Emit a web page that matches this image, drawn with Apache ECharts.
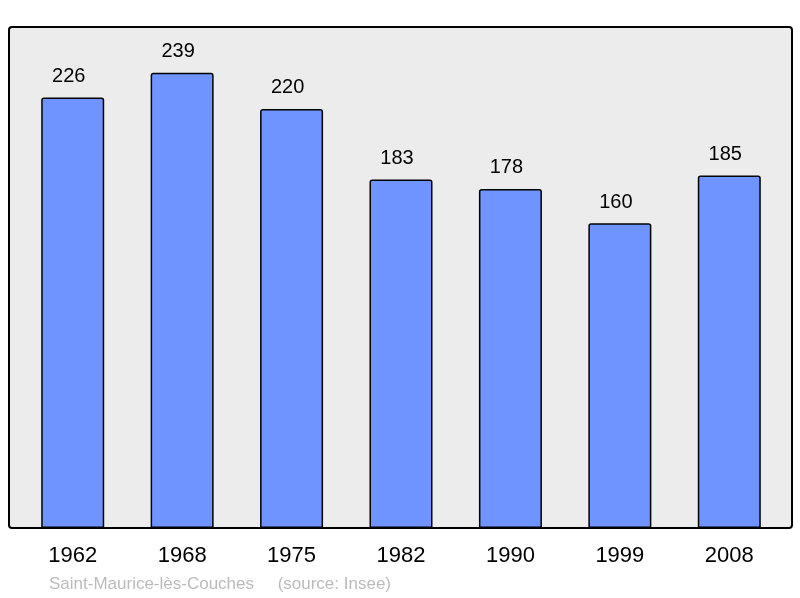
<!DOCTYPE html>
<html lang="fr">
<head>
<meta charset="UTF-8">
<title>Saint-Maurice-lès-Couches</title>
<script src="https://cdn.jsdelivr.net/npm/echarts@6/dist/echarts.min.js"></script>
<style>
  html, body { margin: 0; padding: 0; background: #fff; }
  #chartmain { width: 800px; height: 598px; }
</style>
</head>
<body>
<div id="chartmain"></div>
<script>
// années du recensement et population
var annees = ['1962', '1968', '1975', '1982', '1990', '1999', '2008'];
var population = [226, 239, 220, 183, 178, 160, 185];

var myChart = echarts.init(document.getElementById('chartmain'));

var option = {
    animation: false,
    backgroundColor: '#ffffff',
    // cadre gris derrière les barres
    graphic: [
        {
            type: 'rect',
            z: -10,
            shape: { x: 9, y: 27, width: 783, height: 501, r: 3 },
            style: { fill: '#ececec', stroke: '#000', lineWidth: 2 }
        },
        {
            type: 'text',
            left: 49,
            top: 576,
            style: {
                text: 'Saint-Maurice-lès-Couches     (source: Insee)',
                fill: '#bbbbbb',
                font: '17px "Liberation Sans", Arial, sans-serif'
            }
        }
    ],
    grid: { left: 18, right: 16, top: 27, bottom: 70 },
    xAxis: {
        type: 'category',
        data: annees,
        axisLine: { show: false },
        axisTick: { show: false },
        axisLabel: {
            color: '#000',
            fontSize: 22,
            margin: 17,
            fontFamily: '"Liberation Sans", Arial, sans-serif'
        }
    },
    yAxis: {
        type: 'value',
        min: 0,
        max: 263,
        show: false,
        splitLine: { show: false }
    },
    series: [{
        name: 'Population',
        type: 'bar',
        data: population,
        barWidth: 63,
        itemStyle: {
            color: '#7094ff',
            borderColor: '#000',
            borderWidth: 1.5,
            borderRadius: [2, 2, 0, 0]
        },
        label: {
            show: true,
            position: 'top',
            distance: 11,
            offset: [-4, 0],
            color: '#000',
            fontSize: 20,
            fontFamily: '"Liberation Sans", Arial, sans-serif'
        }
    }]
};

myChart.setOption(option);
</script>
</body>
</html>
